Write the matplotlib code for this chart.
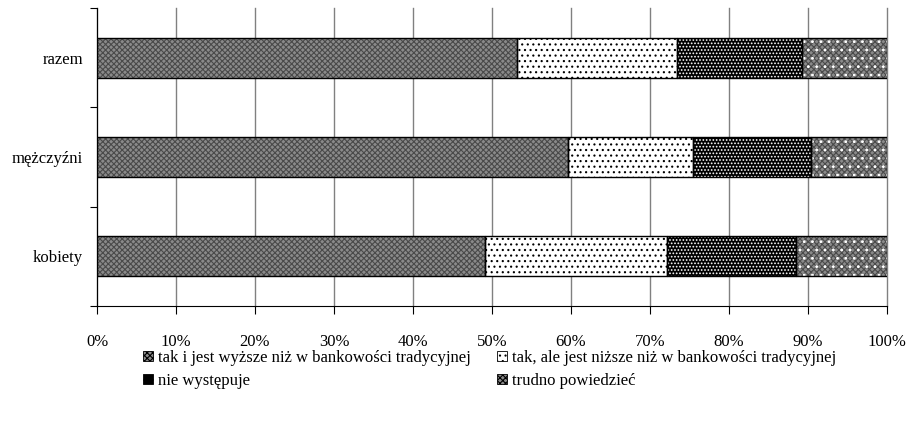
import numpy as np
import matplotlib
matplotlib.use('Agg')
import matplotlib.pyplot as plt
from matplotlib.patches import Patch

plt.rcParams['font.family'] = ['Liberation Serif', 'DejaVu Serif']
plt.rcParams['hatch.linewidth'] = 0.8

# Data (percent shares), bottom to top
categories = ['kobiety', 'mężczyźni', 'razem']
series_names = ['tak i jest wyższe niż w bankowości tradycyjnej',
                'tak, ale jest niższe niż w bankowości tradycyjnej',
                'nie występuje',
                'trudno powiedzieć']
tak_wyzsze = [49.1, 59.6, 53.2]
tak_nizsze = [23.1, 15.8, 20.2]
nie_wystepuje = [16.3, 15.0, 15.8]
trudno = [11.5, 9.6, 10.8]
x_ticks = [0, 10, 20, 30, 40, 50, 60, 70, 80, 90, 100]

values = [tak_wyzsze, tak_nizsze, nie_wystepuje, trudno]
# base fill + base hatch, then optional overlay hatch
faces = ['#8a8a8a', 'white', 'black', '#8a8a8a']
hatch_colors = ['#4a4a4a', 'black', 'white', '#4a4a4a']
hatches = ['xxxxxx', '...', '.....', 'xxxxxx']
overlay = [None, None, None, '..']

fig = plt.figure(figsize=(9.11, 4.22), dpi=100)
ax = fig.add_axes([0.1065, 0.275, 0.867, 0.706])

ypos = np.arange(len(categories)) + 0.5
left = np.zeros(len(categories))
for vals, fc, hc, h, ov in zip(values, faces, hatch_colors, hatches, overlay):
    ax.barh(ypos, vals, height=0.4, left=left, color=fc, edgecolor=hc,
            hatch=h, linewidth=0, zorder=3)
    if ov:
        ax.barh(ypos, vals, height=0.4, left=left, fill=False, edgecolor='white',
                hatch=ov, linewidth=0, zorder=3.5)
    ax.barh(ypos, vals, height=0.4, left=left, fill=False, edgecolor='black',
            linewidth=1.0, zorder=4)
    left += np.array(vals)

ax.set_xlim(0, 100)
ax.set_ylim(0, 3)
ax.set_xticks(x_ticks)
ax.set_xticklabels([f'{t}%' for t in x_ticks], fontsize=12)
ax.set_yticks([0, 1, 2, 3])
ax.set_yticklabels([])
ax.set_yticks(ypos, minor=True)
ax.set_yticklabels(categories, minor=True, fontsize=12)
ax.tick_params(axis='y', which='minor', length=0, pad=10)
ax.tick_params(axis='y', which='major', length=5, direction='out')
ax.tick_params(axis='x', length=6, direction='out', pad=14)
for t in x_ticks:
    ax.axvline(t, color='#808080', linewidth=1.0, zorder=0, clip_on=False)
ax.spines['top'].set_visible(False)
ax.spines['right'].set_visible(False)

order = [0, 2, 1, 3]
handles = [Patch(facecolor=faces[i], edgecolor=hatch_colors[i], hatch=hatches[i],
                 linewidth=0) for i in order]
labels = [series_names[i] for i in order]
leg = fig.legend(handles, labels, loc='upper left', ncol=2,
                 bbox_to_anchor=(0.157, 0.171), frameon=False, fontsize=12,
                 handlelength=0.6, handleheight=0.6, handletextpad=0.3,
                 columnspacing=1.6, labelspacing=0.42, borderaxespad=0,
                 borderpad=0)
for hnd in leg.legend_handles:
    hnd.set_edgecolor('black')
    hnd.set_linewidth(0.6)

fig.savefig('out.png', dpi=100)
